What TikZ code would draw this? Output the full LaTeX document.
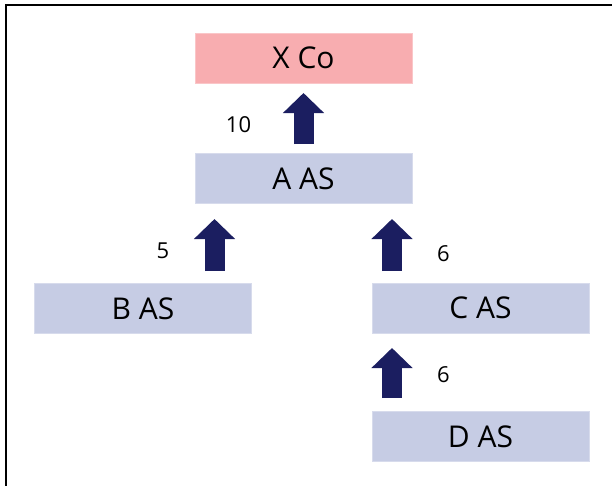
\documentclass[tikz,border=0pt]{standalone}
\usepackage{fontspec}
\setmainfont{Open Sans}
\usetikzlibrary{arrows.meta}
\definecolor{pinkbox}{RGB}{248,173,176}
\definecolor{bluebox}{RGB}{198,204,228}
\definecolor{navy}{RGB}{27,30,96}
\tikzset{
  x=1pt, y=-1pt,
  entity/.style={fill=#1, draw=#1!70!white, line width=0.6pt, minimum width=217pt, minimum height=50pt, inner sep=0pt, font=\fontsize{30}{32}\selectfont, text=black},
  entity/.default=bluebox,
  uparrow/.style={navy, line width=20pt, -{Triangle[length=20pt, width=40pt]}},
  share/.style={font=\fontsize{22}{24}\selectfont, text=black, inner sep=0pt}
}
\begin{document}
\begin{tikzpicture}
\useasboundingbox (0,0) rectangle (612,485);
\draw[line width=2.6pt] (6,486) -- (6,5) -- (613,5);
\node[entity=pinkbox] (X) at (303.5,58) {X Co};
\node[entity] (A) at (303.5,178.5) {A AS};
\node[entity] (B) at (143,308.5) {B AS};
\node[entity] (C) at (480.5,308) {C AS};
\node[entity] (D) at (480.5,436.5) {D AS};
\coordinate (xa0) at (303.5,144);
\coordinate (xa1) at (303.5,93);
\coordinate (ba0) at (214.5,271);
\coordinate (ba1) at (214.5,219);
\coordinate (ca0) at (392,271);
\coordinate (ca1) at (392,219);
\coordinate (da0) at (392,398);
\coordinate (da1) at (392,348);
\draw[uparrow] (xa0) -- (xa1);
\draw[uparrow] (ba0) -- (ba1);
\draw[uparrow] (ca0) -- (ca1);
\draw[uparrow] (da0) -- (da1);
\node[share] (lx) at (238.5,125) {10};
\node[share] (lb) at (163,251) {5};
\node[share] (lc) at (443.5,254) {6};
\node[share] (ld) at (443.5,375) {6};
\end{tikzpicture}
\end{document}
